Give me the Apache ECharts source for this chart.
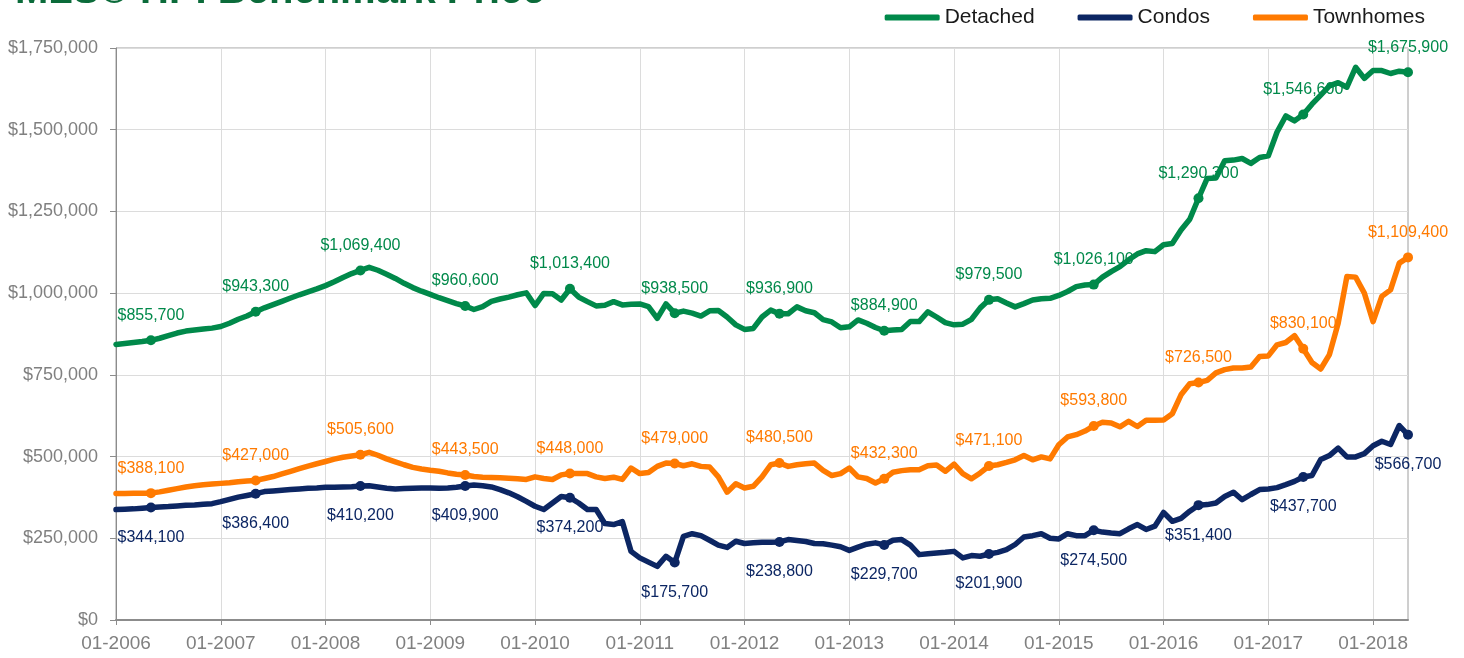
<!DOCTYPE html>
<html><head><meta charset="utf-8">
<script src="https://cdn.jsdelivr.net/npm/echarts@6/dist/echarts.min.js"></script>
<style>html,body{margin:0;padding:0;background:#fff}#c{width:1464px;height:658px}</style>
</head><body><div id="c"></div>
<script>
// Monthly categories 01-2006 .. 05-2018
const startYear = 2006, monthCount = 149;
const months = [];
for (let i = 0; i < monthCount; i++) {
  const y = startYear + Math.floor(i / 12), m = i % 12 + 1;
  months.push((m < 10 ? '0' : '') + m + '-' + y);
}
const seriesNames = ['Detached', 'Condos', 'Townhomes'];
const detached = [
 843000,846000,849000,852000,855700,862000,870000,878000,884000,887000,890000,893000,
 898000,908000,920000,930000,943300,955000,965000,975000,985000,995000,1004000,1013000,
 1023000,1035000,1048000,1060000,1069400,1079000,1070000,1058000,1045000,1030000,1017000,1006000,
 996000,986000,977000,968000,960600,950000,959000,975000,982000,988000,995000,1001000,
 962000,999000,998000,979000,1013400,988000,974000,961000,963000,974000,964000,966000,
 967000,959000,923000,967000,938500,945000,939000,930000,946000,947000,927000,903000,
 889000,892000,927000,948000,936900,937000,958000,946000,940000,919000,912000,894000,
 897000,918000,908000,895000,884900,887000,889000,913000,913000,943000,927000,910000,
 903000,905000,920000,955000,979500,983000,970000,958000,968000,979000,983000,984000,
 993000,1005000,1020000,1025000,1026100,1049000,1066000,1081000,1102000,1120000,1130000,1127000,
 1148000,1152000,1193000,1226000,1290300,1351000,1352000,1405000,1407000,1412000,1397000,1415000,
 1420000,1493000,1542000,1527000,1546600,1578000,1606000,1634000,1644000,1630000,1691000,1657000,
 1681000,1681000,1672000,1679000,1675900
];
const condos = [
 338000,339000,340000,342000,344100,346000,347000,349000,351000,352000,354000,356000,
 362000,369000,376000,381000,386400,393000,395000,397000,399000,401000,403000,404000,
 406000,406000,407000,408000,410200,411000,407000,403000,401000,402000,403000,404000,
 404000,403000,404000,406000,409900,413000,411000,407000,399000,389000,377000,363000,
 348000,338000,358000,378000,374200,358000,338000,338000,295000,292000,301000,210000,
 190000,177000,164000,195000,175700,256000,264000,258000,244000,229000,222000,241000,
 234000,236000,238000,238000,238800,246000,243000,240000,234000,233000,229000,224000,
 213000,223000,232000,236000,229700,244000,246000,229000,200000,203000,205000,207000,
 210000,190000,197000,195000,201900,207000,215000,231000,254000,258000,264000,250000,
 248000,264000,258000,258000,274500,269000,266000,264000,279000,292000,277000,287000,
 329000,302000,311000,333000,351400,353000,358000,378000,391000,368000,384000,399000,
 401000,405000,414000,424000,437700,442000,491000,503000,526000,499000,499000,509000,
 533000,547000,537000,595000,566700
];
const townhomes = [
 387000,387000,387500,388000,388100,392000,397000,402000,407000,411000,414000,416000,
 418000,420000,423000,425000,427000,433000,439000,447000,455000,463000,471000,478000,
 485000,492000,498000,502000,505600,513000,504000,493000,484000,475000,467000,462000,
 458000,455000,450000,446000,443500,439000,437000,436000,435000,434000,432000,430000,
 438000,433000,430000,444000,448000,448000,448000,438000,433000,437000,430000,465000,
 448000,451000,470000,480000,479000,472000,478000,470000,468000,438000,391000,417000,
 404000,409000,438000,475000,480500,470000,475000,478000,480000,458000,442000,448000,
 465000,438000,433000,419000,432300,452000,457000,460000,460000,472000,474000,455000,
 477000,448000,432000,450000,471100,475000,482000,490000,503000,490000,499000,493000,
 536000,560000,567000,578000,593800,605000,603000,591000,608000,592000,611000,611000,
 612000,631000,689000,723000,726500,733000,756000,766000,771000,771000,774000,806000,
 808000,842000,849000,870000,830100,788000,768000,812000,908000,1051000,1049000,1000000,
 913000,990000,1010000,1092000,1109400
];
// Points carrying a marker and a value label (May of each year)
const labelIndices = [4,16,28,40,52,64,76,88,100,112,124,136,148];
const yTicks = { min: 0, max: 1750000, step: 250000 };

const colors = { Detached: '#00894a', Condos: '#0c2663', Townhomes: '#ff7a00' };
const FONT = 'Liberation Sans, Arial, Helvetica, sans-serif';
const money = v => '$' + Number(v).toLocaleString('en-US');
const yearTick = idx => idx % 12 === 0;

function lineSeries(name, data) {
  return {
    name, type: 'line', data, z: 3,
    symbol: (v, p) => labelIndices.includes(p.dataIndex) ? 'circle' : 'none',
    symbolSize: 10, showSymbol: true, showAllSymbol: true,
    lineStyle: { width: 5.5, color: colors[name], cap: 'round', join: 'round' },
    itemStyle: { color: colors[name] },
    emphasis: { disabled: true }, silent: true
  };
}
function labelSeries(name, data, pos, dist) {
  return {
    name: name + ' labels', type: 'scatter', z: 2, silent: true,
    data: labelIndices.map(i => [i, data[i]]),
    symbolSize: 10, itemStyle: { color: 'rgba(0,0,0,0)', opacity: 1 },
    label: {
      show: true, position: pos, distance: dist, color: colors[name], opacity: 1,
      fontSize: 16, fontFamily: FONT, formatter: p => money(p.value[1])
    },
    emphasis: { disabled: true }
  };
}

const chart = echarts.init(document.getElementById('c'), null, { renderer: 'canvas' });
chart.setOption({
  animation: false,
  backgroundColor: '#fff',
  textStyle: { fontFamily: FONT },
  title: {
    text: 'MLS® HPI Benchmark Price', left: 10, top: -33,
    textStyle: { fontSize: 40, fontWeight: 'bold', color: '#0b6b3a', fontFamily: FONT }
  },
  legend: {
    data: seriesNames, right: 34, top: 2, itemWidth: 55, itemHeight: 6, itemGap: 43,
    icon: 'roundRect',
    textStyle: { fontSize: 21, color: '#1a1a1a', fontFamily: FONT }
  },
  grid: { left: 116, right: 56, top: 48, bottom: 38, show: true, borderColor: '#9e9e9e', borderWidth: 1 },
  xAxis: {
    type: 'category', data: months, boundaryGap: false,
    axisLine: { lineStyle: { color: '#8c8c8c', width: 2 } },
    axisTick: { show: true, interval: (i) => yearTick(i), length: 5, lineStyle: { color: '#8c8c8c' } },
    axisLabel: { interval: (i) => yearTick(i), color: '#808080', fontSize: 19, margin: 14, fontFamily: FONT },
    splitLine: { show: true, interval: (i) => yearTick(i), lineStyle: { color: '#dcdcdc', width: 1 } }
  },
  yAxis: {
    type: 'value', min: yTicks.min, max: yTicks.max, interval: yTicks.step,
    axisLine: { show: true, lineStyle: { color: '#8c8c8c', width: 1 } },
    axisTick: { show: true, length: 6, lineStyle: { color: '#8c8c8c' } },
    axisLabel: { color: '#808080', fontSize: 18, margin: 18, formatter: money, fontFamily: FONT },
    splitLine: { show: true, lineStyle: { color: '#dcdcdc', width: 1 } }
  },
  series: [
    labelSeries('Detached', detached, 'top', 12),
    labelSeries('Condos', condos, 'bottom', 17),
    labelSeries('Townhomes', townhomes, 'top', 12),
    lineSeries('Detached', detached),
    lineSeries('Condos', condos),
    lineSeries('Townhomes', townhomes)
  ]
});
</script>
</body></html>
